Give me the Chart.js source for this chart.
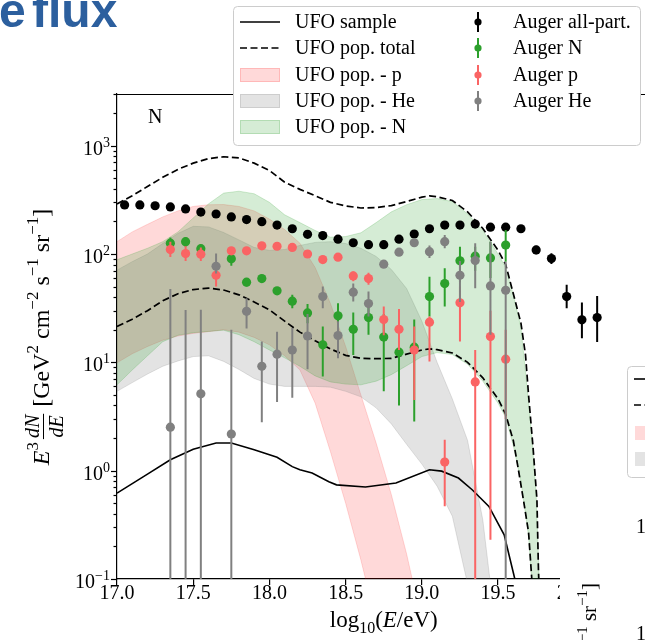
<!DOCTYPE html>
<html>
<head>
<meta charset="utf-8">
<script src="https://cdn.jsdelivr.net/npm/chart.js@4.4.1/dist/chart.umd.min.js"></script>
<style>
  html, body { margin: 0; padding: 0; background: #fff; overflow: hidden; }
  #wrap { position: relative; width: 645px; height: 640px; overflow: hidden; }
  canvas { position: absolute; left: 0; top: 0; }
</style>
</head>
<body>
<div id="wrap"><canvas id="flux" width="700" height="640"></canvas></div>
<script>
// UFO population bands (per species), x = log10(E/eV)
const pBandX  = [17.0, 17.1, 17.2, 17.3, 17.4, 17.5, 17.6, 17.7, 17.8, 17.9, 18.0, 18.1, 18.2, 18.3, 18.4, 18.5, 18.6, 18.7, 18.8, 18.9, 19.0];
const pBandHi = [130, 160, 188, 220, 250, 275, 285, 286, 275, 250, 210, 168, 126, 75, 35, 14, 5, 1.8, 0.6, 0.17, 0.04];
const pBandLo = [9.9, 12, 14, 16, 17.5, 18.5, 19.2, 20, 19, 17, 14.5, 11.5, 8.5, 4.2, 1.5, 0.5, 0.15, 0.04, 0.01, 0.005, 0.002];

const heBandX  = [17.0, 17.1, 17.2, 17.3, 17.4, 17.5, 17.6, 17.7, 17.8, 17.9, 18.0, 18.1, 18.2, 18.3, 18.4, 18.5, 18.6, 18.7, 18.8, 18.9, 19.0, 19.1, 19.2, 19.3, 19.4, 19.45, 19.5];
const heBandHi = [71, 85, 100, 125, 155, 180, 178, 158, 135, 115, 108, 110, 120, 128, 130, 125, 113, 95, 72, 48, 24, 10, 4.6, 1.9, 0.35, 0.09, 0.02];
const heBandLo = [5.4, 6.5, 7.8, 9.2, 10.3, 11.3, 11.5, 10.2, 8.6, 7.1, 6.3, 6.0, 6.0, 6.0, 5.9, 5.4, 4.8, 3.8, 2.7, 1.75, 1.15, 0.72, 0.38, 0.09, 0.02, 0.01, 0.005];

const nBandX  = [17.0, 17.1, 17.2, 17.3, 17.4, 17.5, 17.6, 17.7, 17.8, 17.9, 18.0, 18.1, 18.2, 18.3, 18.4, 18.5, 18.6, 18.7, 18.8, 18.9, 19.0, 19.1, 19.2, 19.3, 19.4, 19.5, 19.55, 19.6, 19.65, 19.7, 19.72, 19.75, 19.77, 19.8];
const nBandHi = [88.5, 100, 113, 130, 160, 215, 290, 365, 380, 360, 300, 230, 195, 165, 143, 145, 157, 195, 245, 285, 318, 325, 305, 235, 165, 100, 75, 42, 21, 4.3, 2.2, 0.6, 0.1, 0.02];
const nBandLo = [6.2, 8.5, 11.5, 15.5, 17.8, 18.8, 19.3, 19.8, 18, 15.5, 13, 11, 9.2, 7.5, 6.6, 6.3, 6.2, 6.7, 7.7, 9.3, 11.3, 12.3, 11.8, 9.6, 6.7, 4.2, 3.1, 1.7, 0.8, 0.25, 0.1, 0.03, 0.015, 0.01];

// UFO population total (dashed) and UFO sample (solid)
const totX  = [17.0, 17.1, 17.2, 17.3, 17.4, 17.5, 17.6, 17.7, 17.8, 17.9, 18.0, 18.1, 18.2, 18.3, 18.4, 18.5, 18.6, 18.7, 18.8, 18.9, 19.0, 19.05, 19.1, 19.2, 19.3, 19.4, 19.5, 19.55, 19.6, 19.65, 19.68, 19.7, 19.73, 19.755, 19.765, 19.78];
const totHi = [290, 345, 420, 510, 605, 690, 760, 790, 770, 690, 590, 460, 395, 345, 300, 278, 266, 268, 280, 305, 335, 344, 338, 312, 245, 172, 108, 80, 43, 23, 11.7, 5, 1.6, 0.54, 0.12, 0.03];
const totLoX = [17.0, 17.1, 17.2, 17.3, 17.4, 17.5, 17.6, 17.7, 17.8, 17.9, 18.0, 18.1, 18.2, 18.3, 18.4, 18.5, 18.6, 18.7, 18.8, 18.9, 19.0, 19.05, 19.1, 19.2, 19.3, 19.4, 19.5, 19.55, 19.6, 19.63, 19.67, 19.7, 19.72, 19.73];
const totLo = [21.4, 25, 30, 37, 43, 47, 48.4, 46.5, 42, 36, 30.5, 24, 19, 15.8, 13.3, 11.6, 10.9, 10.8, 10.9, 11.9, 13, 13.3, 13.1, 12.2, 10, 7.2, 4.6, 3.3, 1.9, 1.09, 0.5, 0.27, 0.106, 0.06];

const sampleX = [17.0, 17.2, 17.35, 17.5, 17.65, 17.75, 17.9, 18.05, 18.15, 18.2, 18.28, 18.39, 18.44, 18.63, 18.83, 19.05, 19.13, 19.24, 19.33, 19.44, 19.54, 19.61, 19.65];
const sampleY = [0.62, 0.93, 1.26, 1.58, 1.80, 1.80, 1.56, 1.33, 1.09, 1.02, 0.95, 0.79, 0.74, 0.707, 0.77, 1.02, 0.99, 0.855, 0.667, 0.468, 0.256, 0.1, 0.05];

// Auger measurements
const allX  = [17.05, 17.15, 17.25, 17.35, 17.45, 17.55, 17.65, 17.75, 17.85, 17.95, 18.05, 18.15, 18.25, 18.35, 18.45, 18.55, 18.65, 18.75, 18.85, 18.95, 19.05, 19.15, 19.25, 19.35, 19.45, 19.55, 19.65, 19.75, 19.85, 19.95, 20.05, 20.15];
const allY  = [284, 284, 279, 272, 261, 244, 234, 220, 208, 199, 185, 171, 152, 148, 137, 127, 122, 122, 137, 153, 171, 185, 185, 189, 177, 177, 171, 109, 90.8, 40.5, 24.7, 25.9];
const allHi = [290, 290, 285, 278, 266, 249, 239, 225, 212, 203, 189, 175, 155, 151, 140, 130, 125, 125, 140, 157, 176, 191, 192, 197, 186, 188, 184, 119, 101.6, 51.9, 35.6, 41];
const allLo = [278, 278, 273, 266, 256, 239, 229, 215, 204, 195, 181, 167, 149, 145, 134, 124, 119, 119, 134, 149, 166, 179, 178, 181, 168, 166, 158, 99.5, 81, 31.6, 16.7, 15.4];

const nX  = [17.35, 17.45, 17.55, 17.75, 17.85, 17.95, 18.05, 18.15, 18.25, 18.35, 18.45, 18.55, 18.65, 18.75, 18.85, 18.95, 19.05, 19.15, 19.25, 19.35, 19.45, 19.55];
const nY  = [126, 130, 112, 90.2, 55, 59.3, 45.7, 36.7, 28.6, 14.5, 26.9, 20.2, 25.9, 17.1, 12.4, 13.8, 40.5, 53.3, 86.5, 95.5, 92, 121];
const nHi = [142, 143, 122, 100, 60, 64, 49, 42, 34.5, 21.4, 35.2, 28.8, 35, 28, 20, 24.9, 61.8, 74, 117, 117, 130, 167];
const nLo = [117, 117, 104, 78, 50, 54, 42, 31.5, 23, 7.4, 18.6, 11.7, 18, 5.4, 4.0, 2.85, 26.5, 32.7, 55, 70, 60, 85];

const pX  = [17.35, 17.45, 17.55, 17.65, 17.75, 17.85, 17.95, 18.05, 18.15, 18.25, 18.35, 18.45, 18.55, 18.65, 18.75, 18.85, 18.95, 19.05, 19.15, 19.25, 19.35, 19.45, 19.55];
const pY  = [110, 101, 99.6, 63.7, 107, 107, 119, 118, 115, 100, 88.8, 93.5, 62.8, 59.3, 24.8, 20.2, 13.0, 23.5, 1.2, 35.4, 6.6, 17.3, 10.7];
const pHi = [130, 118, 115, 75, 114, 113, 126, 125, 121, 106, 94, 100, 69, 67, 32.7, 31, 21.4, 26.5, 1.93, 50, 13.0, 30, 20];
const pLo = [94, 86, 86, 50, 100, 101, 112, 111, 109, 94, 83, 87, 56, 52, 17.8, 13, 4.5, 10.2, 0.47, 15.6, 0.01, 0.23, 3];

const heX  = [17.35, 17.45, 17.55, 17.65, 17.75, 17.85, 17.95, 18.05, 18.15, 18.25, 18.35, 18.45, 18.55, 18.65, 18.75, 18.85, 18.95, 19.05, 19.15, 19.25, 19.35, 19.45, 19.55];
const heY  = [2.52, 0.05, 5.12, 77, 2.18, 29.6, 9.2, 11.9, 13.0, 17.5, 40.5, 17.7, 44.4, 34.9, 80.5, 104, 127, 105, 130, 63.7, 86.9, 50.8, 46.3];
const heHi = [47.6, 30.5, 30.6, 101, 20, 39, 15.6, 19.2, 20.7, 27.9, 50.1, 24, 53.5, 45, 86, 110, 135, 120, 150, 86, 126, 130, 85];
const heLo = [0.01, 0.01, 0.01, 66, 0.01, 20.5, 2.8, 4.3, 4.7, 8.65, 31.5, 10.9, 36.5, 26.5, 75, 98, 118, 92, 113, 36, 48.4, 18, 0.01];

const yTickPowers = [-1, 0, 1, 2, 3];

const RED = 'rgba(255,0,0,0.15)', GRY = 'rgba(128,128,128,0.22)', GRN = 'rgba(44,160,44,0.2)';
const cN = '#2ca02c', cP = '#fa6464', cHe = '#808080';
const SERIF = '"Liberation Serif", "DejaVu Serif", serif';

function pts(xs, ys) { return xs.map((x, i) => ({ x: x, y: ys[i] })); }
function bars(xs, lo, hi) {
  const out = [];
  xs.forEach((x, i) => { out.push({ x: x, y: lo[i] }, { x: x, y: hi[i] }, { x: x, y: null }); });
  return out;
}
function band(data, color, order, fill) {
  return { type: 'line', data: data, borderColor: color, backgroundColor: color, borderWidth: 1, pointRadius: 0, fill: fill, order: order };
}
function curve(data, dash, order) {
  return { type: 'line', data: data, borderColor: '#000', borderWidth: dash ? 1.7 : 1.6, borderDash: dash ? [7, 3.5] : [], pointRadius: 0, fill: false, order: order };
}
function errs(data, color, order) {
  return { type: 'line', data: data, borderColor: color, borderWidth: 2, pointRadius: 0, fill: false, spanGaps: false, order: order };
}
function dots(data, color, order) {
  return { type: 'line', data: data, showLine: false, pointRadius: 4.6, pointHoverRadius: 4.6, pointBackgroundColor: color, pointBorderWidth: 0, borderColor: color, order: order };
}

const datasets = [
  band(pts(pBandX, pBandHi), RED, 100, 1),
  band(pts(pBandX, pBandLo), RED, 100, false),
  band(pts(heBandX, heBandHi), GRY, 95, 3),
  band(pts(heBandX, heBandLo), GRY, 95, false),
  band(pts(nBandX, nBandHi), GRN, 90, 5),
  band(pts(nBandX, nBandLo), GRN, 90, false),
  curve(pts(totX, totHi), true, 60),
  curve(pts(totLoX, totLo), true, 60),
  curve(pts(sampleX, sampleY), false, 55),
  errs(bars(allX, allLo, allHi), '#000', 40),
  dots(pts(allX, allY), '#000', 39),
  errs(bars(nX, nLo, nHi), cN, 30),
  dots(pts(nX, nY), cN, 29),
  errs(bars(pX, pLo, pHi), cP, 20),
  dots(pts(pX, pY), cP, 19),
  errs(bars(heX, heLo, heHi), cHe, 10),
  dots(pts(heX, heY), cHe, 9)
];

function runW(ctx, r) {
  ctx.font = r.f;
  if (r.num) return Math.max(ctx.measureText(r.num).width, ctx.measureText(r.den).width) + 4;
  return ctx.measureText(r.t).width + (r.gap || 0);
}
function drawRuns(ctx, runs, x0, y0) {
  let xx = x0;
  runs.forEach(r => {
    const w = runW(ctx, r);
    ctx.font = r.f;
    if (r.num) {
      ctx.textAlign = 'center';
      ctx.fillText(r.num, xx + w / 2, y0 + r.nd);
      ctx.fillText(r.den, xx + w / 2, y0 + r.dd);
      ctx.fillRect(xx + 1, y0 + r.bar, w - 2, 1);
      ctx.textAlign = 'left';
    } else {
      ctx.fillText(r.t, xx, y0 + (r.dy || 0));
    }
    xx += w;
  });
  return xx - x0;
}
function totalW(ctx, runs) { return runs.reduce((s, r) => s + runW(ctx, r), 0); }

const rmY = '24px ' + SERIF, itY = 'italic 24px ' + SERIF, rmYs = '17px ' + SERIF, itYf = 'italic 20px ' + SERIF;
const rm21 = '21px ' + SERIF, rm15 = '15px ' + SERIF;
const rm20 = '20px ' + SERIF, rm14 = '14px ' + SERIF;
const rmX = '23px ' + SERIF, itX = 'italic 23px ' + SERIF, rmXs = '16px ' + SERIF;

const yLabelRuns = [
  { t: 'E', f: itY }, { t: '3', f: rmYs, dy: -11, gap: 2 },
  { num: 'dN', den: 'dE', f: itYf, nd: -10, dd: 14, bar: -6 },
  { t: ' [GeV', f: rmY }, { t: '2', f: rmYs, dy: -11 },
  { t: ' cm', f: rmY }, { t: '\u22122', f: rmYs, dy: -11 },
  { t: ' s', f: rmY }, { t: '\u22121', f: rmYs, dy: -11 },
  { t: ' sr', f: rmY }, { t: '\u22121', f: rmYs, dy: -11 },
  { t: ']', f: rmY }
];
const xLabelRuns = [
  { t: 'log', f: rmX }, { t: '10', f: rmXs, dy: 6 },
  { t: '(', f: rmX }, { t: 'E', f: itX }, { t: '/eV)', f: rmX }
];

function hline(ctx, x1, y1, x2, y2) { ctx.beginPath(); ctx.moveTo(x1, y1); ctx.lineTo(x2, y2); ctx.stroke(); }
function rrect(ctx, x, y, w, h, r) {
  ctx.beginPath();
  ctx.moveTo(x + r, y); ctx.lineTo(x + w - r, y); ctx.quadraticCurveTo(x + w, y, x + w, y + r);
  ctx.lineTo(x + w, y + h - r); ctx.quadraticCurveTo(x + w, y + h, x + w - r, y + h);
  ctx.lineTo(x + r, y + h); ctx.quadraticCurveTo(x, y + h, x, y + h - r);
  ctx.lineTo(x, y + r); ctx.quadraticCurveTo(x, y, x + r, y);
  ctx.closePath();
}

const decor = {
  id: 'decor',
  afterDraw(chart) {
    const { ctx, chartArea: a, scales: { y } } = chart;
    ctx.save();
    ctx.strokeStyle = '#000'; ctx.fillStyle = '#000'; ctx.lineWidth = 1.2;
    hline(ctx, a.left, a.top + 0.5, a.right, a.top + 0.5);

    // y ticks (log, with minors) and labels
    yTickPowers.forEach(p => {
      for (let m = 1; m <= 9; m++) {
        const v = m * Math.pow(10, p);
        if (v > y.max) break;
        const py = Math.round(y.getPixelForValue(v)) + 0.5;
        hline(ctx, a.left - (m === 1 ? 6 : 3.5), py, a.left, py);
      }
      const py = y.getPixelForValue(Math.pow(10, p));
      const ex = p < 0 ? '\u2212' + (-p) : String(p);
      ctx.font = rm14; const we = ctx.measureText(ex).width;
      ctx.font = rm20; const wb = ctx.measureText('10').width;
      const xr = a.left - 7;
      ctx.textAlign = 'left';
      ctx.fillText('10', xr - we - wb, py + 9);
      ctx.font = rm14;
      ctx.fillText(ex, xr - we, py + 1);
    });

    // axis titles
    ctx.save();
    ctx.translate(49, 337); ctx.rotate(-Math.PI / 2);
    drawRuns(ctx, yLabelRuns, -totalW(ctx, yLabelRuns) / 2, 0);
    ctx.restore();
    const xw = totalW(ctx, xLabelRuns);
    drawRuns(ctx, xLabelRuns, (a.left + a.right) / 2 - xw / 2, 627);

    ctx.font = rm20; ctx.fillText('N', 148, 123);

    // page title fragment
    ctx.fillStyle = '#2c5f9e';
    ctx.font = 'bold 48px "Liberation Sans", Arial, sans-serif';
    ctx.fillText('e', -1, 27);
    ctx.fillText('flux', 32, 27);

    // legend
    ctx.fillStyle = '#fff'; ctx.strokeStyle = '#cccccc'; ctx.lineWidth = 1;
    rrect(ctx, 233.5, 6.5, 407, 139, 4); ctx.fill(); ctx.stroke();
    const rows = [22, 48, 75, 101, 127];
    const left = ['UFO sample', 'UFO pop. total', 'UFO pop. - p', 'UFO pop. - He', 'UFO pop. - N'];
    ctx.strokeStyle = '#000'; ctx.lineWidth = 1.6;
    hline(ctx, 240, rows[0], 280, rows[0]);
    ctx.setLineDash([7, 3.5]); ctx.lineWidth = 1.7;
    hline(ctx, 240, rows[1], 280, rows[1]);
    ctx.setLineDash([]);
    [RED, GRY, GRN].forEach((c, i) => {
      ctx.fillStyle = c; ctx.strokeStyle = c; ctx.lineWidth = 1;
      ctx.fillRect(240, rows[i + 2] - 7, 40, 14); ctx.strokeRect(240.5, rows[i + 2] - 6.5, 39, 13);
    });
    ctx.fillStyle = '#000'; ctx.font = rm20; ctx.textAlign = 'left';
    left.forEach((t, i) => ctx.fillText(t, 295, rows[i] + 6));
    const right = ['Auger all-part.', 'Auger N', 'Auger p', 'Auger He'];
    const rc = ['#000', cN, cP, cHe];
    right.forEach((t, i) => {
      ctx.strokeStyle = rc[i]; ctx.fillStyle = rc[i]; ctx.lineWidth = 2;
      hline(ctx, 478, rows[i] - 10, 478, rows[i] + 10);
      ctx.beginPath(); ctx.arc(478, rows[i], 3.6, 0, Math.PI * 2); ctx.fill();
      ctx.fillStyle = '#000'; ctx.fillText(t, 513, rows[i] + 6);
    });

    // neighbouring panel overlapping the lower right corner
    ctx.fillStyle = '#fff'; ctx.fillRect(560, 350, 140, 290);
    ctx.strokeStyle = '#cccccc'; ctx.lineWidth = 1;
    rrect(ctx, 627.5, 366.5, 60, 111, 4); ctx.stroke();
    ctx.strokeStyle = '#000'; ctx.lineWidth = 1.6;
    hline(ctx, 634, 379, 660, 379);
    ctx.setLineDash([7, 3.5]); hline(ctx, 634, 405, 660, 405); ctx.setLineDash([]);
    ctx.fillStyle = RED; ctx.fillRect(635, 426, 30, 14);
    ctx.fillStyle = GRY; ctx.fillRect(635, 452, 30, 14);
    ctx.fillStyle = '#000'; ctx.font = rm20;
    ctx.fillText('10', 636, 533);
    ctx.fillText('10', 636, 640);
    const nbRuns = [{ t: '\u22121', f: rm15, dy: -9 }, { t: ' sr', f: rm21 }, { t: '\u22121', f: rm15, dy: -9 }, { t: ']', f: rm21 }];
    ctx.save();
    ctx.translate(596, 583); ctx.rotate(-Math.PI / 2);
    drawRuns(ctx, nbRuns, -totalW(ctx, nbRuns), 0);
    ctx.restore();
    ctx.restore();
  }
};

new Chart(document.getElementById('flux'), {
  type: 'line',
  data: { datasets: datasets },
  options: {
    responsive: false,
    animation: false,
    devicePixelRatio: 1,
    layout: { padding: { left: 0, top: 94, right: 49.5, bottom: 0 } },
    elements: { line: { tension: 0 } },
    plugins: { legend: { display: false }, tooltip: { enabled: false } },
    scales: {
      x: {
        type: 'linear', min: 17, max: 20.5,
        afterFit: s => { s.height = 61; },
        ticks: { stepSize: 0.5, color: '#000', padding: -3, font: { family: SERIF, size: 20 }, callback: v => Number(v).toFixed(1), maxRotation: 0 },
        grid: { drawOnChartArea: false, drawTicks: true, tickLength: 6, color: '#000', lineWidth: 1.2 },
        border: { display: true, color: '#000', width: 1.2 }
      },
      y: {
        type: 'logarithmic', min: 0.1, max: 3000,
        afterFit: s => { s.width = 117; },
        ticks: { display: false },
        grid: { display: false },
        border: { display: true, color: '#000', width: 1.2 }
      }
    }
  },
  plugins: [decor]
});
</script>
</body>
</html>
